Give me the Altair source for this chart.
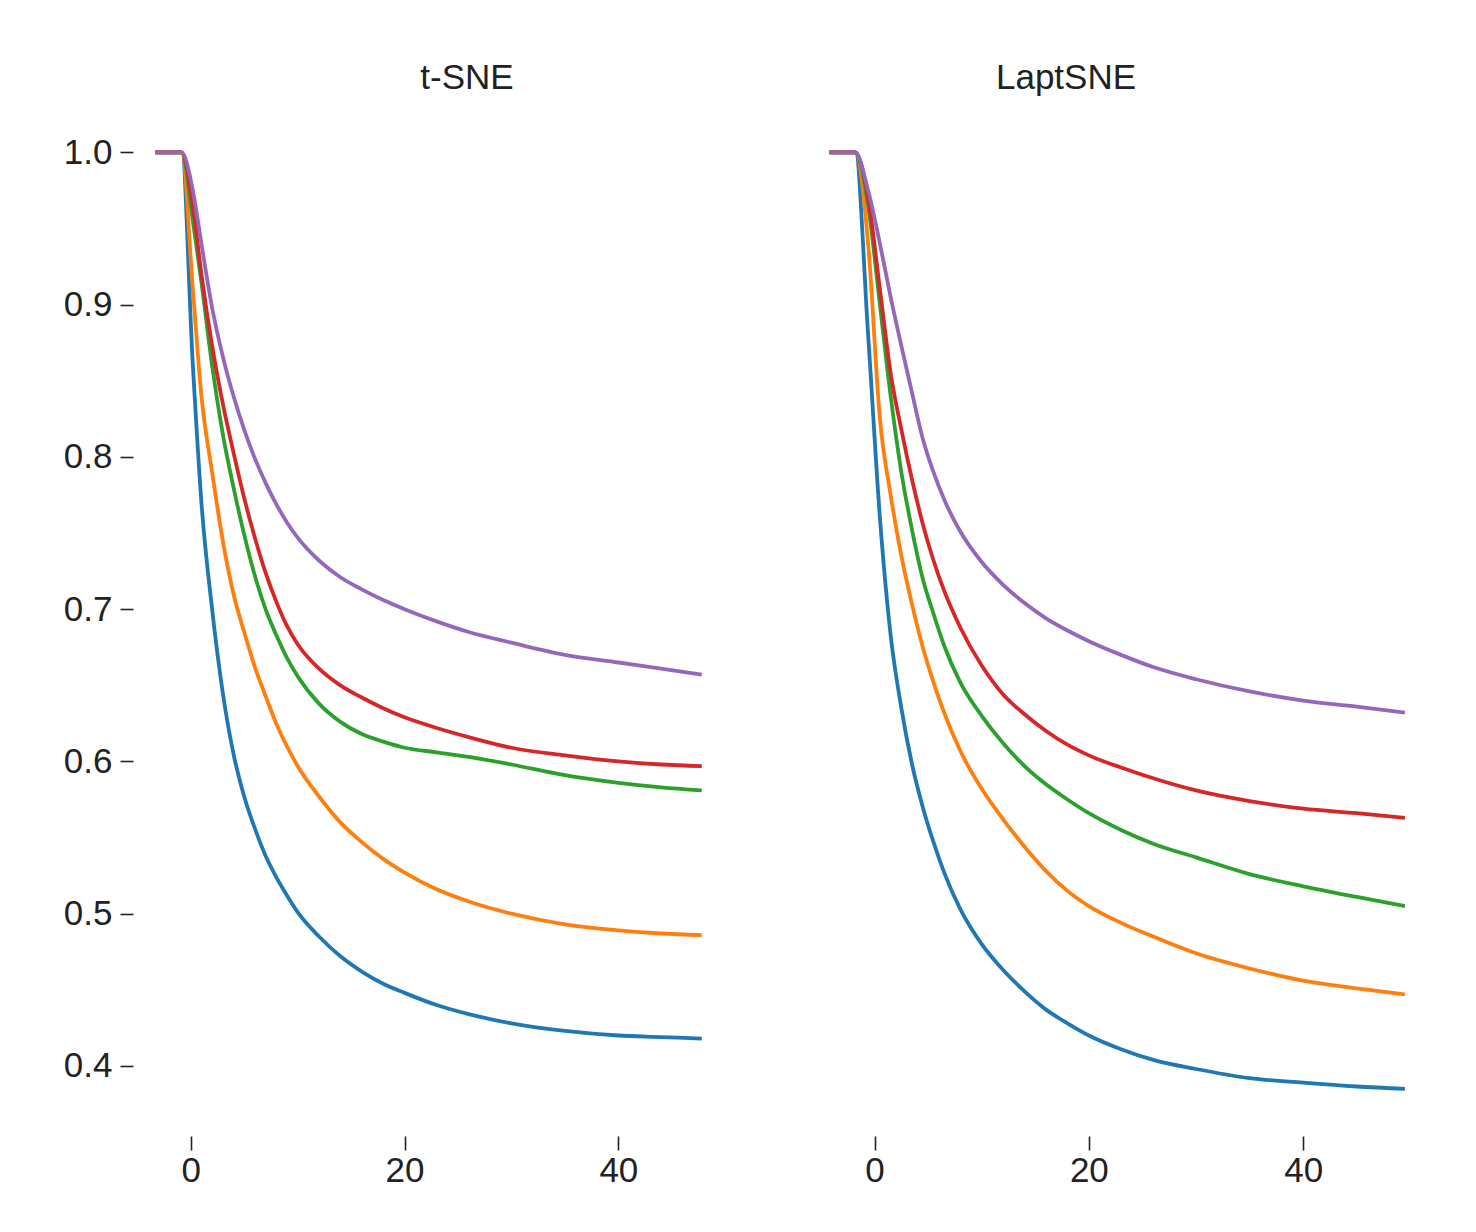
import altair as alt
import pandas as pd

series = ["s1", "s2", "s3", "s4", "s5"]
colors = ["#1f77b4", "#ff7f0e", "#2ca02c", "#d62728", "#9467bd"]

# ---- t-SNE panel ----
tsne_x = [-3.3, -0.85, 0.2, 1, 2, 3, 4, 5, 6, 7, 8, 9, 10, 12, 14, 16, 18, 20, 23, 26, 30, 35, 40, 44, 47.8]
tsne_s1 = [1.0, 1.0, 0.86, 0.77, 0.70, 0.645, 0.605, 0.577, 0.556, 0.538, 0.524, 0.512, 0.501, 0.485, 0.472, 0.462, 0.454, 0.448, 0.440, 0.434, 0.428, 0.423, 0.420, 0.419, 0.418]
tsne_s2 = [1.0, 1.0, 0.91, 0.84, 0.79, 0.745, 0.71, 0.685, 0.662, 0.643, 0.625, 0.610, 0.597, 0.577, 0.560, 0.547, 0.536, 0.527, 0.516, 0.508, 0.500, 0.493, 0.489, 0.487, 0.486]
tsne_s3 = [1.0, 1.0, 0.955, 0.915, 0.86, 0.815, 0.78, 0.749, 0.722, 0.700, 0.683, 0.668, 0.656, 0.638, 0.626, 0.618, 0.613, 0.609, 0.606, 0.603, 0.598, 0.591, 0.586, 0.583, 0.581]
tsne_s4 = [1.0, 1.0, 0.965, 0.92, 0.873, 0.835, 0.803, 0.773, 0.747, 0.724, 0.705, 0.689, 0.677, 0.661, 0.650, 0.642, 0.635, 0.629, 0.622, 0.616, 0.609, 0.604, 0.600, 0.598, 0.597]
tsne_s5 = [1.0, 1.0, 0.975, 0.94, 0.898, 0.866, 0.840, 0.818, 0.799, 0.783, 0.769, 0.757, 0.747, 0.732, 0.721, 0.713, 0.706, 0.700, 0.692, 0.685, 0.678, 0.670, 0.665, 0.661, 0.657]

# ---- LaptSNE panel ----
lapt_x = [-4.2, -1.8, -0.6, 0.5, 1.5, 2.5, 3.5, 4.5, 5.5, 6.5, 8, 10, 12, 14, 16, 18, 20, 23, 26, 30, 35, 40, 45, 49.5]
lapt_s1 = [1.0, 1.0, 0.88, 0.76, 0.683, 0.635, 0.598, 0.57, 0.547, 0.527, 0.503, 0.480, 0.463, 0.449, 0.437, 0.428, 0.420, 0.411, 0.404, 0.398, 0.392, 0.389, 0.3865, 0.385]
lapt_s2 = [1.0, 1.0, 0.94, 0.825, 0.775, 0.735, 0.703, 0.675, 0.652, 0.632, 0.607, 0.582, 0.562, 0.544, 0.528, 0.515, 0.505, 0.494, 0.485, 0.474, 0.464, 0.456, 0.451, 0.447]
lapt_s3 = [1.0, 1.0, 0.965, 0.9, 0.84, 0.79, 0.752, 0.72, 0.697, 0.676, 0.652, 0.630, 0.612, 0.597, 0.585, 0.575, 0.566, 0.555, 0.546, 0.537, 0.526, 0.518, 0.511, 0.505]
lapt_s4 = [1.0, 1.0, 0.97, 0.91, 0.855, 0.818, 0.785, 0.756, 0.732, 0.712, 0.688, 0.663, 0.644, 0.631, 0.620, 0.611, 0.604, 0.596, 0.589, 0.581, 0.574, 0.569, 0.566, 0.563]
lapt_s5 = [1.0, 1.0, 0.975, 0.94, 0.905, 0.873, 0.842, 0.812, 0.790, 0.772, 0.751, 0.731, 0.716, 0.704, 0.694, 0.686, 0.679, 0.670, 0.662, 0.654, 0.646, 0.640, 0.636, 0.632]

titles = ["t-SNE", "LaptSNE"]
x_ticks = [0, 20, 40]
y_ticks = [0.4, 0.5, 0.6, 0.7, 0.8, 0.9, 1.0]


def long_df(xs, ys_list):
    rows = []
    for name, ys in zip(series, ys_list):
        for xv, yv in zip(xs, ys):
            rows.append({"x": xv, "y": yv, "series": name})
    return pd.DataFrame(rows)


df_tsne = long_df(tsne_x, [tsne_s1, tsne_s2, tsne_s3, tsne_s4, tsne_s5])
df_lapt = long_df(lapt_x, [lapt_s1, lapt_s2, lapt_s3, lapt_s4, lapt_s5])

FONT = "Liberation Sans"
TXT = "#222222"
Y_DOMAIN = [0.354, 1.02]
H = 1014


def panel(df, title, xdom, width, dx, show_y):
    x_axis = alt.Axis(values=x_ticks, title=None, grid=False, domain=False,
                      tickSize=14, tickWidth=1.6, tickColor=TXT,
                      labelFont=FONT, labelFontSize=35, labelColor=TXT,
                      labelPadding=3, format="d")
    if show_y:
        y_axis = alt.Axis(values=y_ticks, title=None, grid=False, domain=False,
                          tickSize=13, tickWidth=1.6, tickColor=TXT,
                          labelFont=FONT, labelFontSize=35, labelColor=TXT,
                          labelPadding=8, format=".1f")
    else:
        y_axis = None
    return alt.Chart(df).mark_line(strokeWidth=3.8, interpolate="monotone").encode(
        x=alt.X("x:Q", scale=alt.Scale(domain=xdom, nice=False, zero=False), axis=x_axis),
        y=alt.Y("y:Q", scale=alt.Scale(domain=Y_DOMAIN, nice=False, zero=False), axis=y_axis),
        color=alt.Color("series:N", scale=alt.Scale(domain=series, range=colors), legend=None),
    ).properties(
        width=width, height=H,
        title=alt.TitleParams(title, font=FONT, fontSize=35, fontWeight="normal",
                              color=TXT, frame="group", dx=dx, offset=26),
    )


left = panel(df_tsne, titles[0], [-5.4, 49.6], 588, 40, True)
right = panel(df_lapt, titles[1], [-5.0, 51.0], 600, -55, False)

chart = alt.hconcat(left, right, spacing=100).properties(
    padding={"left": 55, "top": 53, "right": 5, "bottom": 5}
).configure_view(stroke=None)

chart.save("out.html", embed_options={"renderer": "svg", "actions": False})
